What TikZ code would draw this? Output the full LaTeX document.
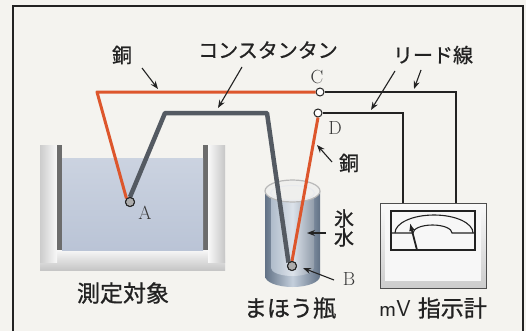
\documentclass[tikz,border=0pt]{standalone}
\usepackage{fontspec}
\newfontfamily\jpfont[FakeBold=0.9]{Noto Sans CJK JP}
\usetikzlibrary{arrows.meta,positioning}

\definecolor{paper}{RGB}{244,243,239}
\definecolor{ink}{RGB}{34,34,34}
\definecolor{copper}{RGB}{221,86,44}
\definecolor{constantan}{RGB}{84,90,98}
\definecolor{water}{RGB}{186,196,214}
\definecolor{flaskdark}{RGB}{98,114,134}
\definecolor{flasklight}{RGB}{196,207,220}

\begin{document}
\begin{tikzpicture}[x=1pt, y=-1pt,
  cuwire/.style={draw=copper, line width=3pt, line join=round},
  cnwire/.style={draw=constantan, line width=4.5pt, line join=round},
  lead/.style={draw=ink, line width=1.2pt},
  term/.style={circle, draw=ink, fill=white, line width=1pt,
               inner sep=0pt, minimum size=8pt},
  joint/.style={circle, draw=ink, fill=gray!65, line width=1pt,
                inner sep=0pt, minimum size=9pt},
  lbl/.style={font=\jpfont\fontsize{20}{22}\selectfont, text=ink, inner sep=1pt},
  biglbl/.style={font=\jpfont\fontsize{23}{25}\selectfont, text=ink, inner sep=1pt},
  pt/.style={font=\fontsize{19}{21}\selectfont, text=ink!90, inner sep=1pt},
  arr/.style={-{Stealth[length=8pt,width=6pt]}, line width=1.1pt, draw=ink},
]
% paper and frame
\fill[paper] (0,0) rectangle (526,331);
\draw[ink, line width=1.2pt] (13,331) -- (13,6) -- (523,6) -- (523,331);

% bath with the measured object
\fill[gray!12] (40,145) -- (40,270) -- (225,270) -- (225,145) -- (203,145)
  -- (203,250) -- (62,250) -- (62,145) -- cycle;
\shade[top color=gray!6, bottom color=gray!45] (40,250) rectangle (225,270);
\shade[left color=gray!40, right color=gray!5] (40,145) rectangle (57,262);
\fill[gray!85!black] (57,145) rectangle (62,250);
\shade[left color=gray!5, right color=gray!45] (208,145) rectangle (225,262);
\fill[gray!85!black] (203,145) rectangle (208,250);
\shade[top color=water!75!white, bottom color=water] (62,158) rectangle (203,250);

% vacuum flask
\shade[left color=flaskdark, right color=flaskdark, middle color=flasklight]
  (265,191) -- (265,276) arc[start angle=180, end angle=0, x radius=27.5, y radius=11]
  -- (320,191) -- cycle;
\shade[left color=flasklight!80!flaskdark, right color=flaskdark!70!white,
       middle color=flasklight!60!white]
  (271,195) -- (271,268) arc[start angle=180, end angle=0, x radius=21.5, y radius=8]
  -- (314,195) -- cycle;
\fill[paper!90!flasklight] (292.5,191) ellipse[x radius=27.5, y radius=11];
\draw[gray!55, line width=1.2pt] (292.5,191) ellipse[x radius=27.5, y radius=11];
\draw[white!85!flaskdark, line width=1pt] (292.5,193) ellipse[x radius=22, y radius=7.5];

% millivolt meter
\shade[top color=gray!4, bottom color=gray!40] (380,203) rectangle (486,288);
\fill[gray!6] (385,207) rectangle (481,281);
\draw[ink!80, line width=1pt] (380,203) rectangle (486,288);
\draw[ink, line width=1.2pt, fill=white!94!gray] (391,211) rectangle (475,250);
\draw[ink, line width=1.1pt] (391,233) -- (413,233)
  arc[start angle=180, end angle=360, x radius=19.5, y radius=8] -- (475,233);
\draw[ink, line width=1.1pt] (395,233)
  arc[start angle=180, end angle=360, x radius=39, y radius=18];
\draw[ink, line width=1.8pt, -{Latex[length=8pt,width=6pt]}] (417,250) -- (410,223);

% junctions and terminals
\node[joint] (jA) at (130,202) {};
\node[joint] (jB) at (292,266) {};
\node[term] (tC) at (320,92) {};
\node[term] (tD) at (318,113) {};
\coordinate (cuBend) at (97,92);
\coordinate (cnBendL) at (165,113);
\coordinate (cnBendR) at (267,113);
\coordinate (leadC) at (456,92);
\coordinate (leadD) at (403,113);
\coordinate (mtrR) at (456,203);
\coordinate (mtrL) at (403,203);

% wires
\draw[cuwire] (jA.north west) -- (cuBend) -- (tC.west);
\draw[cuwire] (tD.south) -- (jB.north);
\draw[cnwire] (jA.north) -- (cnBendL) -- (cnBendR) -- (jB.north west);
\draw[lead] (tC.east) -- (leadC) -- (mtrR);
\draw[lead] (tD.east) -- (leadD) -- (mtrL);
\node[joint] at (jA) {};
\node[joint] at (jB) {};

% point labels
\node[pt] (lblA) at (145,213) {A};
\node[pt] (lblB) at (349,279) {B};
\node[pt] (lblC) at (317,77) {C};
\node[pt] (lblD) at (335,128) {D};

% captions
\node[lbl] (cuTop) at (122,55) {銅};
\node[lbl] (cnTop) at (268,50) {コンスタンタン};
\node[lbl] (leadTop) at (433,55) {リード線};
\node[lbl] (cuSide) at (349,163) {銅};
\node[lbl, align=center] (ice) at (344,228) {氷\\[-3pt]水};
\node[biglbl] (bath) at (123,293) {測定対象};
\node[biglbl] (flask) at (290,308) {まほう瓶};
\node[biglbl] (meter) at (433,308) {\sffamily mV\ \jpfont 指示計};

% pointer arrows
\draw[arr] (142,68) -- (158,89);
\draw[arr] (242,67) -- (218,108);
\draw[arr] (395,71) -- (371,110);
\draw[arr] (421,70) -- (414,89);
\draw[arr] (332,162) -- (317,145);
\draw[arr] (326,233) -- (307,233);
\draw[arr] (334,280) -- (303,268);
\end{tikzpicture}
\end{document}
